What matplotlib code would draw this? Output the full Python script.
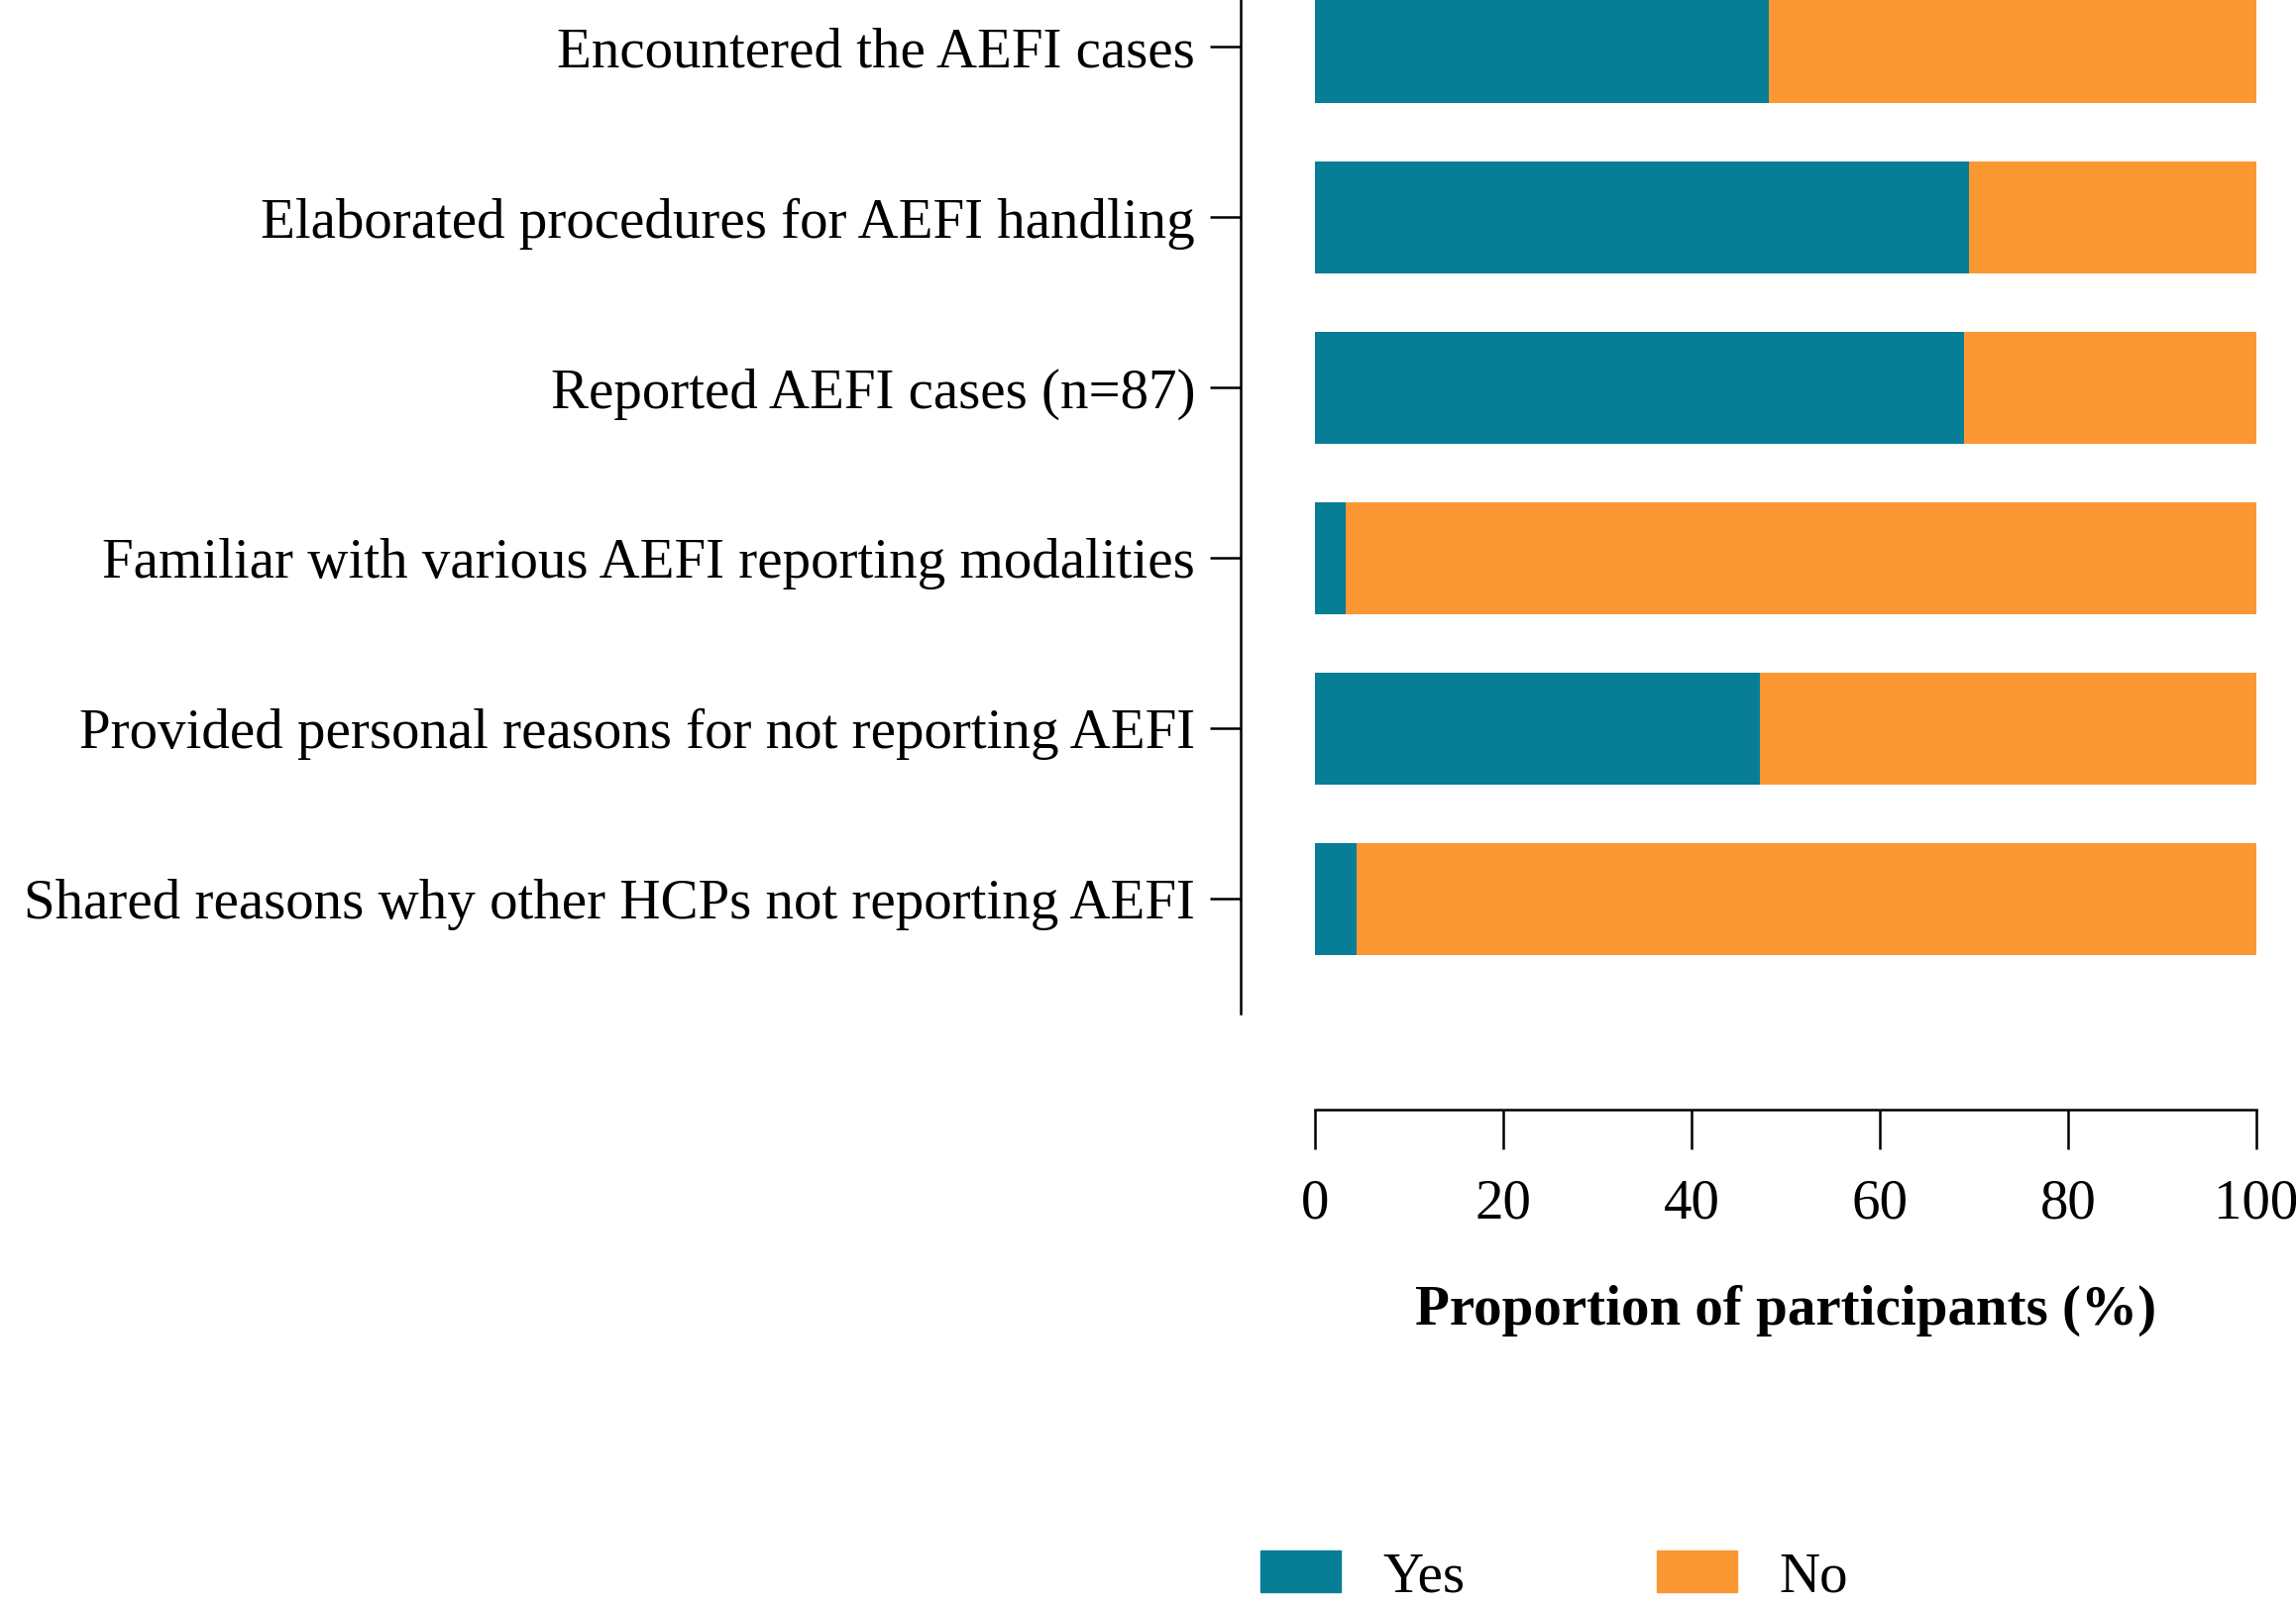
import numpy as np
import matplotlib.pyplot as plt
from matplotlib.patches import Patch

# category labels, top to bottom
labels = [
    "Encountered the AEFI cases",
    "Elaborated procedures for AEFI handling",
    "Reported AEFI cases (n=87)",
    "Familiar with various AEFI reporting modalities",
    "Provided personal reasons for not reporting AEFI",
    "Shared reasons why other HCPs not reporting AEFI",
]
# percentage answering yes (no = 100 - yes)
yes_pct = [48.2, 69.5, 69.0, 3.3, 47.3, 4.4]
no_pct = [100 - v for v in yes_pct]

col_yes = "#087d96"
col_no = "#fc9833"

plt.rcParams['font.family'] = ['Liberation Serif', 'DejaVu Serif']
plt.rcParams['font.size'] = 41

fig = plt.figure(figsize=(23.17, 16.19), dpi=100)
ax = fig.add_axes([0.5727, 0.3684, 0.4100, 0.666])

y = np.arange(len(labels))
bar_h = 0.66
ax.barh(y, yes_pct, bar_h, color=col_yes, label="Yes")
ax.barh(y, no_pct, bar_h, left=yes_pct, color=col_no, label="No")

ax.set_xlim(0, 100)
ax.set_ylim(5.67, -0.6)

ax.set_yticks(y)
ax.set_yticklabels(labels)
ax.set_xticks([0, 20, 40, 60, 80, 100])

for s in ["top", "right"]:
    ax.spines[s].set_visible(False)
ax.spines["left"].set_position(("outward", 54))
ax.spines["bottom"].set_position(("outward", 70))
ax.spines["bottom"].set_bounds(0, 100)
ax.spines["left"].set_linewidth(1.8)
ax.spines["bottom"].set_linewidth(1.8)

ax.tick_params(axis="y", length=22, width=1.8, pad=11)
ax.tick_params(axis="x", length=29, width=1.8, pad=21)

ax.set_xlabel("Proportion of participants (%)", fontweight="bold", labelpad=40)

handles = [Patch(color=col_yes, label="Yes"), Patch(color=col_no, label="No")]
fig.legend(handles=handles, loc="center", bbox_to_anchor=(0.677, 0.017), ncol=2,
           frameon=False, handlelength=1.42, handleheight=0.77,
           handletextpad=0.75, columnspacing=3.4, borderpad=0)

fig.savefig("out.png", dpi=100)
